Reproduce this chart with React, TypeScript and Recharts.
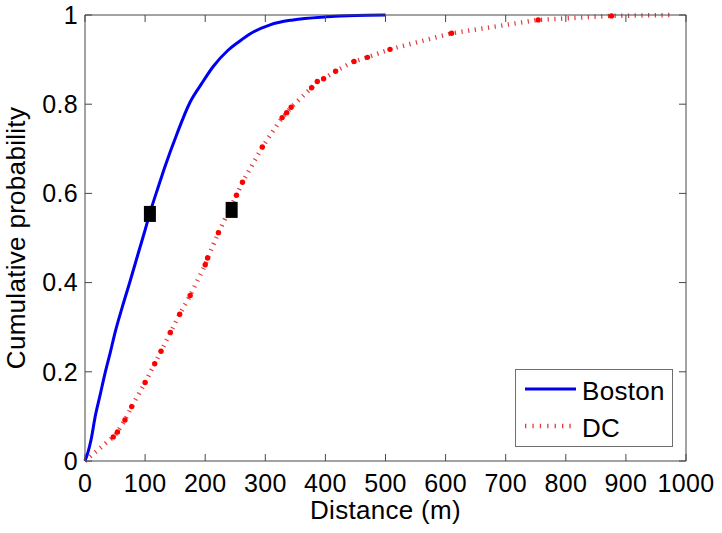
import React from 'react';
import { ComposedChart, Line, Scatter, XAxis, YAxis, Legend } from 'recharts';

const xTicks = [0, 100, 200, 300, 400, 500, 600, 700, 800, 900, 1000];
const yTicks = [0, 0.2, 0.4, 0.6, 0.8, 1];
const seriesNames = ['Boston', 'DC'];

const bostonDistance = [0, 5, 10, 17, 25, 33, 42, 50, 62, 75, 88, 100, 110, 122, 133, 152, 175, 194, 213, 238, 256, 275, 308, 346, 402, 450, 500];
const bostonProb = [0, 0.02, 0.047, 0.1, 0.147, 0.195, 0.243, 0.288, 0.345, 0.403, 0.463, 0.518, 0.565, 0.615, 0.66, 0.73, 0.805, 0.846, 0.884, 0.921, 0.94, 0.958, 0.978, 0.989, 0.996, 0.999, 1.0];

const dcDistance = [0, 47, 54, 66.5, 77.7, 100, 116, 126.5, 142, 157.5, 175, 200, 204, 222, 252, 262, 295, 328, 335.6, 343, 377, 386.5, 397, 417, 447.6, 470, 507.5, 610, 754, 876, 976];
const dcProb = [0, 0.054, 0.065, 0.092, 0.122, 0.176, 0.218, 0.246, 0.288, 0.329, 0.371, 0.44, 0.455, 0.512, 0.596, 0.625, 0.704, 0.77, 0.781, 0.793, 0.837, 0.851, 0.857, 0.874, 0.896, 0.905, 0.923, 0.959, 0.989, 0.998, 1.0];

const medianDistance = [108, 244];
const medianProb = [0.554, 0.563];

const bostonData = bostonDistance.map((d, i) => ({ d, p: bostonProb[i] }));
const dcData = dcDistance.map((d, i) => ({ d, p: dcProb[i] }));
const medianData = medianDistance.map((d, i) => ({ d, p: medianProb[i] }));

const FONT = '"Liberation Sans", Arial, Helvetica, sans-serif';
const AXIS = '#474747';
const BLUE = '#0000f0';
const RED_LINE = '#e23a3e';
const RED_DOT = '#ff0000';
const tickStyle = { fontFamily: FONT, fontSize: 25, fill: '#000', letterSpacing: '0.3px' };
const labelStyle = { fontFamily: FONT, fontSize: 26, fill: '#000', letterSpacing: '0.3px' };

const Empty = () => <g />;

const DcDot = (props: any) => {
  const { cx, cy, index } = props;
  if (index === 0 || index === dcData.length - 1 || cx == null || cy == null) {
    return <g key={`dc-dot-${index}`} />;
  }
  return <circle key={`dc-dot-${index}`} cx={cx} cy={cy} r={2.7} fill={RED_DOT} />;
};

const MedianShape = (props: any) => {
  const { cx, cy } = props;
  return <rect x={cx - 6} y={cy - 8} width={12} height={16} fill="#000" />;
};

const LegendBox = () => (
  <svg width={159} height={79} style={{ display: 'block' }}>
    <rect x={0.5} y={0.5} width={157} height={77} fill="#fff" stroke="#6e6e6e" strokeWidth={1} />
    <line x1={10} x2={61} y1={20} y2={20} stroke={BLUE} strokeWidth={3} />
    <text x={67} y={31} style={labelStyle as any}>{seriesNames[0]}</text>
    <line x1={10} x2={58} y1={57} y2={57} stroke={RED_LINE} strokeWidth={4.5} strokeDasharray="1.3 6.1" />
    <text x={67} y={68} style={labelStyle as any}>{seriesNames[1]}</text>
  </svg>
);

const XLabel = (props: any) => {
  const vb = props.viewBox || {};
  return (
    <text x={vb.x + vb.width / 2} y={vb.y + 58} textAnchor="middle" style={labelStyle as any}>
      Distance (m)
    </text>
  );
};

const YLabel = (props: any) => {
  const vb = props.viewBox || {};
  const x = vb.x + 25;
  const y = vb.y + vb.height / 2;
  return (
    <text x={x} y={y} textAnchor="middle" transform={`rotate(-90, ${x}, ${y})`} style={labelStyle as any}>
      Cumulative probability
    </text>
  );
};

const lineStyle = { stroke: AXIS, strokeWidth: 1 };

export default function App() {
  return (
    <div style={{ position: 'absolute', left: 0, top: 0, background: '#fff' }}>
      <ComposedChart width={722} height={533} margin={{ top: 14, right: 35, left: 0, bottom: 0 }}>
        <XAxis
          xAxisId="b"
          type="number"
          dataKey="d"
          orientation="bottom"
          domain={[0, 1000]}
          ticks={xTicks}
          interval={0}
          height={72}
          axisLine={lineStyle}
          tickLine={lineStyle}
          tickSize={-7}
          tickMargin={20}
          tick={tickStyle as any}
          label={<XLabel />}
        />
        <XAxis
          xAxisId="t"
          type="number"
          dataKey="d"
          orientation="top"
          domain={[0, 1000]}
          ticks={xTicks}
          interval={0}
          height={1}
          axisLine={lineStyle}
          tickLine={lineStyle}
          tickSize={-7}
          tick={<Empty />}
        />
        <YAxis
          yAxisId="l"
          type="number"
          dataKey="p"
          orientation="left"
          domain={[0, 1]}
          ticks={yTicks}
          interval={0}
          width={85}
          axisLine={lineStyle}
          tickLine={lineStyle}
          tickSize={-7}
          tickMargin={14}
          tick={tickStyle as any}
          label={<YLabel />}
        />
        <YAxis
          yAxisId="r"
          type="number"
          dataKey="p"
          orientation="right"
          domain={[0, 1]}
          ticks={yTicks}
          interval={0}
          width={1}
          axisLine={lineStyle}
          tickLine={lineStyle}
          tickSize={-7}
          tick={<Empty />}
        />
        <Line
          xAxisId="b"
          yAxisId="r"
          data={dcData}
          dataKey="p"
          type="linear"
          stroke={RED_LINE}
          strokeWidth={4.5}
          strokeDasharray="1.2 5.5"
          dot={DcDot}
          activeDot={false}
          isAnimationActive={false}
          legendType="none"
        />
        <Line
          xAxisId="t"
          yAxisId="l"
          data={bostonData}
          dataKey="p"
          type="monotone"
          stroke={BLUE}
          strokeWidth={3}
          dot={false}
          activeDot={false}
          isAnimationActive={false}
          legendType="none"
        />
        <Scatter
          xAxisId="b"
          yAxisId="l"
          data={medianData}
          dataKey="p"
          shape={<MedianShape />}
          isAnimationActive={false}
          legendType="none"
        />
        <Legend
          layout="vertical"
          align="center"
          verticalAlign="middle"
          content={<LegendBox />}
          wrapperStyle={{ left: 515, top: 369, width: 159, height: 79 }}
        />
      </ComposedChart>
    </div>
  );
}
